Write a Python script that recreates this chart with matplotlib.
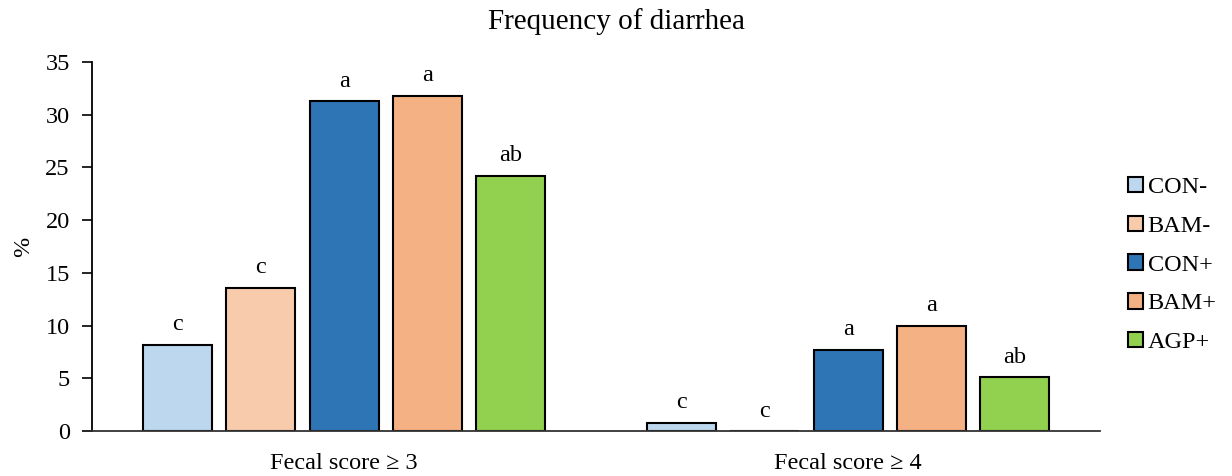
import numpy as np
import matplotlib
matplotlib.use("Agg")
import matplotlib.pyplot as plt

categories = ["Fecal score \u2265 3", "Fecal score \u2265 4"]
groups = ["CON-", "BAM-", "CON+", "BAM+", "AGP+"]
colors = ["#BDD7EE", "#F8CBAD", "#2E75B6", "#F4B183", "#92D050"]
values = {
    "CON-": [8.2, 0.8],
    "BAM-": [13.6, 0.0],
    "CON+": [31.3, 7.7],
    "BAM+": [31.8, 10.0],
    "AGP+": [24.2, 5.1],
}
letters = {
    "CON-": ["c", "c"],
    "BAM-": ["c", "c"],
    "CON+": ["a", "a"],
    "BAM+": ["a", "a"],
    "AGP+": ["ab", "ab"],
}
yticks = [0, 5, 10, 15, 20, 25, 30, 35]

plt.rcParams["font.family"] = ["Liberation Serif", "DejaVu Serif"]
FS = 17.5

fig = plt.figure(figsize=(12.32, 4.76), dpi=100)
ax = fig.add_axes([0.0747, 0.0945, 0.8183, 0.7752])

x = np.arange(len(categories))
step = 0.165
width = 0.137
for i, (g, c) in enumerate(zip(groups, colors)):
    pos = x + (i - 2) * step
    ax.bar(pos, values[g], width, color=c, edgecolor="black", linewidth=1.5,
           label=g, zorder=2)
    for p, v, t in zip(pos, values[g], letters[g]):
        ax.text(p, v + 0.9, t, ha="center", va="bottom", fontsize=FS)

ax.set_xlim(-0.5, 1.5)
ax.set_ylim(0, 35)
ax.set_yticks(yticks)
ax.set_xticks(x)
ax.set_xticklabels(categories, fontsize=FS)
ax.tick_params(axis="x", length=0, pad=16)
ax.tick_params(axis="y", labelsize=FS, length=7, width=1.2, direction="out", pad=9)
for s in ["top", "right"]:
    ax.spines[s].set_visible(False)
ax.spines["left"].set_linewidth(1.3)
ax.spines["bottom"].set_linewidth(1.3)
ax.spines["bottom"].set_color("#333333")
ax.set_ylabel("%", fontsize=FS, labelpad=8)

fig.text(0.5, 0.955, "Frequency of diarrhea", ha="center", va="center", fontsize=21)

leg = ax.legend(loc="center left", bbox_to_anchor=(1.006, 0.45), frameon=False,
                fontsize=FS, handlelength=0.6, handleheight=0.6,
                handletextpad=0.2, labelspacing=0.72)

fig.savefig("out.png", dpi=100)
